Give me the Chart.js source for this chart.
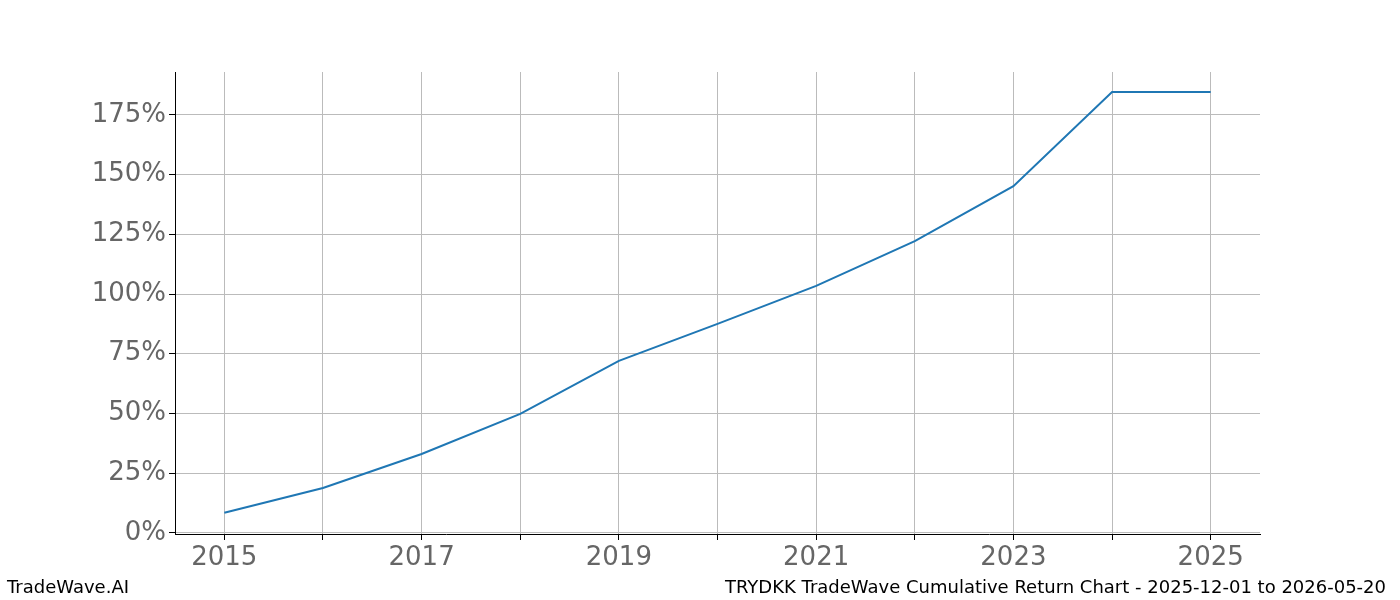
<!DOCTYPE html>
<html>
<head>
<script src="https://cdn.jsdelivr.net/npm/chart.js@4"></script>
<style>
body{margin:0;background:#fff;font-family:"DejaVu Sans",sans-serif}
#wrap{position:relative;width:1400px;height:600px}
.foot{position:absolute;top:576px;font-size:18px;color:#000}
</style>
</head>
<body>
<div id="wrap">
<canvas id="c" width="1400" height="600"></canvas>
<div class="foot" style="left:7px">TradeWave.AI</div>
<div class="foot" style="right:14px">TRYDKK TradeWave Cumulative Return Chart - 2025-12-01 to 2026-05-20</div>
</div>
<script>
// values
const years = [2015, 2016, 2017, 2018, 2019, 2020, 2021, 2022, 2023, 2024, 2025];
const returns = [8.4, 18.8, 33, 49.8, 72, 87.5, 103.4, 122.2, 145.2, 184.6, 184.6];

const points = years.map((y, i) => ({x: y, y: returns[i]}));

new Chart("c", {
  type: "line",
  data: {
    datasets: [{
      data: points,
      borderColor: "#1f77b4",
      borderWidth: 2,
      pointRadius: 0,
      tension: 0
    }]
  },
  options: {
    responsive: false,
    animation: false,
    plugins: {legend: {display: false}, tooltip: {enabled: false}},
    layout: {padding: {left: 0, top: 72, right: 140, bottom: 0}},
    scales: {
      x: {
        type: "linear", min: 2014.5, max: 2025.5,
        afterBuildTicks: s => { s.ticks = years.map(v => ({value: v})); },
        afterFit: s => { s.height = 66; },
        ticks: {
          autoSkip: false, maxRotation: 0,
          color: "#666", font: {family: "DejaVu Sans", size: 26},
          callback: v => (v % 2 === 1 ? String(v) : "")
        },
        grid: {color: "#bbb", lineWidth: 1, tickLength: 6, tickColor: "#000"},
        border: {color: "#000", width: 1}
      },
      y: {
        min: -0.5, max: 193,
        afterBuildTicks: s => { s.ticks = [0, 25, 50, 75, 100, 125, 150, 175].map(v => ({value: v})); },
        afterFit: s => { s.width = 175; },
        ticks: {
          color: "#666", font: {family: "DejaVu Sans", size: 26},
          callback: v => v + "%"
        },
        grid: {color: "#bbb", lineWidth: 1, tickLength: 6, tickColor: "#000"},
        border: {color: "#000", width: 1}
      }
    }
  }
});
</script>
</body>
</html>
